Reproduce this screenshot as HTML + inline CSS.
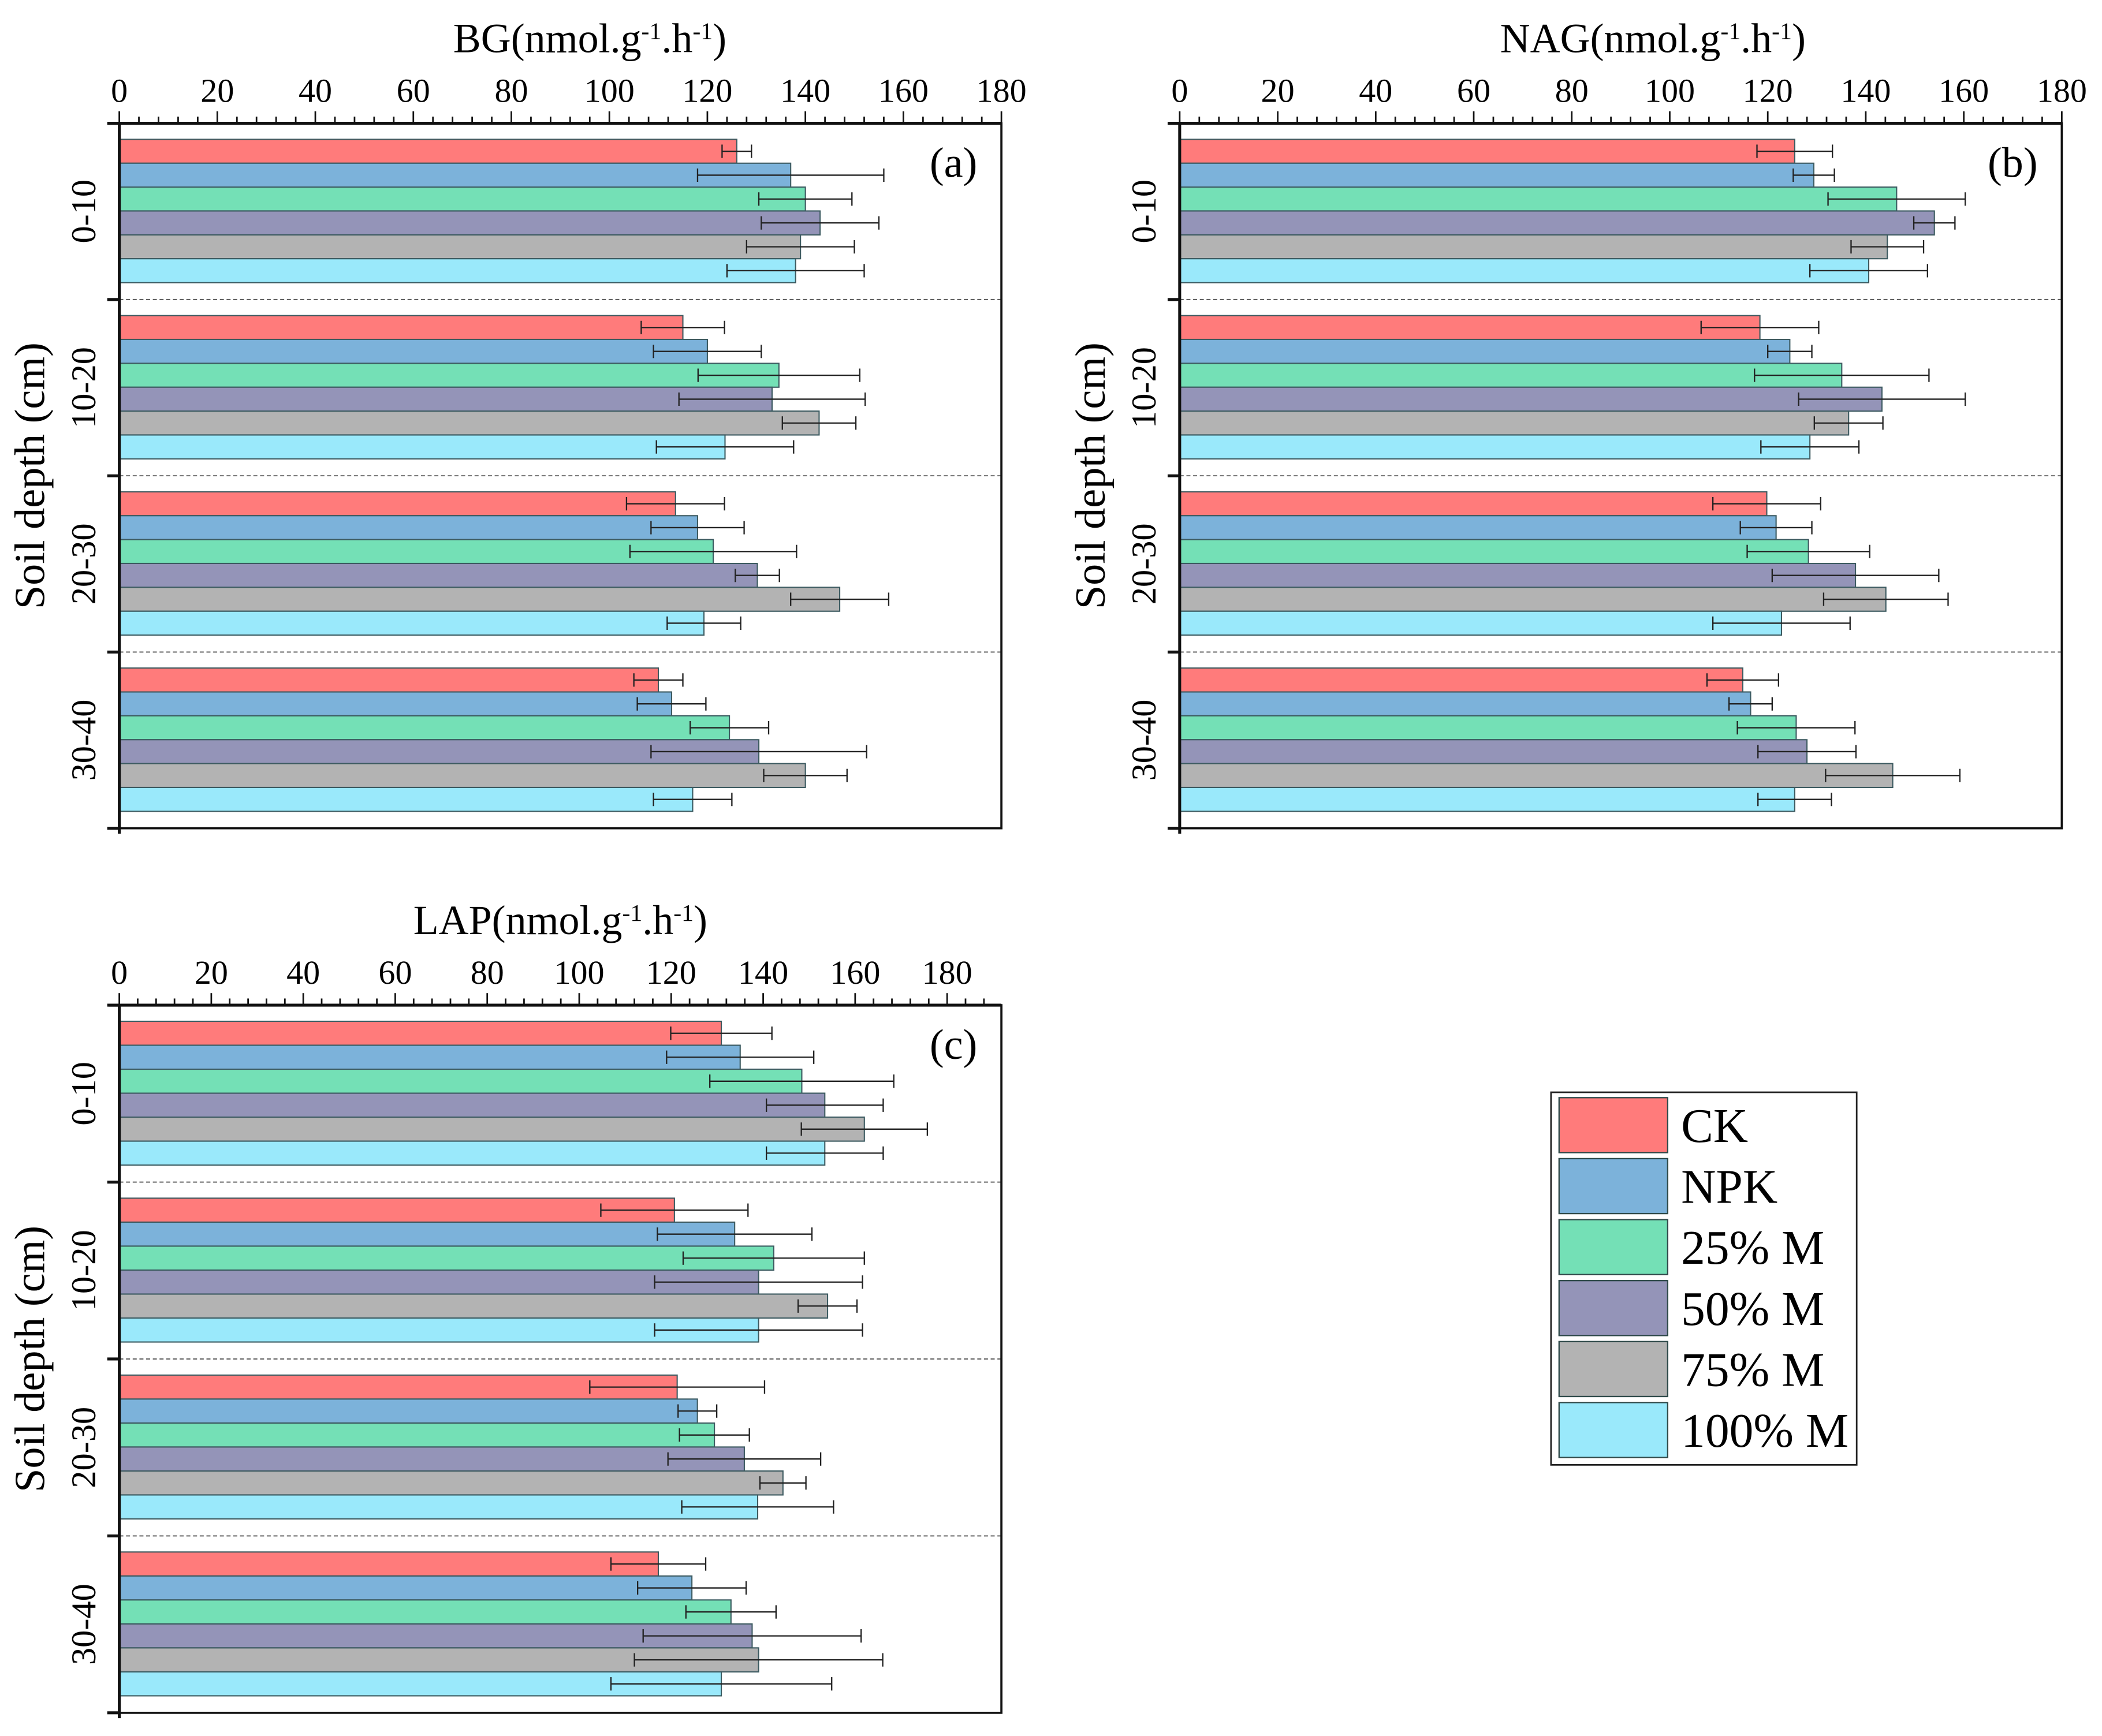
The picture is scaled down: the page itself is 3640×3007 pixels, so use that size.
<!DOCTYPE html>
<html><head><meta charset="utf-8">
<style>
html,body{margin:0;padding:0;background:#fff;}
svg, svg text{font-family:"Liberation Serif","Times New Roman","DejaVu Serif",serif;}
svg{display:block;}
</style></head>
<body>
<svg id="fig" width="3640" height="3007" viewBox="0 0 1568 1295.3" preserveAspectRatio="none" font-family="Liberation Serif, Times New Roman, serif" xmlns="http://www.w3.org/2000/svg"></svg>
<script>
const groups = ["0-10", "10-20", "20-30", "30-40"];
const treatments = ["CK", "NPK", "25% M", "50% M", "75% M", "100% M"];
const colors = ["#ff7b7b", "#7cb2da", "#74e0b6", "#9494b8", "#b3b3b3", "#9ae9fb"];
const ticks = [0, 20, 40, 60, 80, 100, 120, 140, 160, 180];

const bgValues = [[126,137,140,143,139,138],[115,120,134.6,133.2,142.8,123.6],[113.5,118,121.2,130.2,147,119.3],[110,112.7,124.5,130.5,140,117]];
const bgErrors = [[3,19,9.5,12,11,14],[8.5,11,16.5,19,7.5,14],[10,9.5,17,4.5,10,7.5],[5,7,8,22,8.5,8]];
const nagValues = [[125.5,129.4,146.3,154,144.4,140.6],[118.4,124.5,135.1,143.3,136.5,128.6],[119.8,121.7,128.3,137.9,144.1,122.8],[114.9,116.5,125.8,128,145.5,125.5]];
const nagErrors = [[7.7,4.2,14,4.2,7.4,12],[12,4.5,17.8,17,7,10],[11,7.3,12.5,17,12.7,14],[7.3,4.4,12,10,13.7,7.5]];
const lapValues = [[130.9,135,148.4,153.4,162,153.4],[120.7,133.8,142.3,139,154,139],[121.3,125.7,129.4,135.9,144.3,138.8],[117.2,124.5,133,137.6,139,130.9]];
const lapErrors = [[11,16,20,12.7,13.7,12.7],[16,16.8,19.7,22.6,6.4,22.6],[19,4.2,7.6,16.6,5,16.5],[10.3,11.8,9.8,23.7,27,24]];

const NS = "http://www.w3.org/2000/svg";
const svg = document.getElementById("fig");
const FF = '"Liberation Serif", "Times New Roman", serif';
function mk(tag, attrs, parent) {
  const e = document.createElementNS(NS, tag);
  for (const k in attrs) e.setAttribute(k, attrs[k]);
  if (tag === "text") e.setAttribute("font-family", FF);
  (parent || svg).appendChild(e);
  return e;
}

function panel(cfg) {
  const g = mk("g", {});
  
  
  const x0 = cfg.x0, x1 = cfg.x1, y0 = cfg.y0, y1 = cfg.y1;
  const xs = v => x0 + v * (x1 - x0) / cfg.xmax;
  const gh = (y1 - y0) / groups.length;
  const padTop = gh * 0.091, bh = gh * 0.1355;
  const ys = (gi, ti) => y0 + gi * gh + padTop + ti * bh;

  const t = mk("text", {x: (x0 + x1) / 2 + cfg.titleShift, y: cfg.y0 - 53, "text-anchor": "middle", "font-size": 31}, g);
  
  
  t.innerHTML = cfg.title + '(nmol.g<tspan baseline-shift="super" font-size="18">-1</tspan>.h<tspan baseline-shift="super" font-size="18">-1</tspan>)';

  for (let i = 1; i < groups.length; i++) {
    const yy = y0 + i * gh;
    const l = mk("line", {x1: x0, x2: x1, y1: yy, y2: yy, stroke: "#555", "stroke-width": 0.8, "stroke-dasharray": "3,2"}, g);
    
    
  }
  for (let gi = 0; gi < groups.length; gi++) {
    for (let ti = 0; ti < treatments.length; ti++) {
      const r = mk("rect", {x: x0, y: ys(gi, ti), width: xs(cfg.values[gi][ti]) - x0, height: bh, fill: colors[ti], stroke: "#3c5a60", "stroke-width": 0.9}, g);
      
      
    }
  }
  for (let gi = 0; gi < groups.length; gi++) {
    for (let ti = 0; ti < treatments.length; ti++) {
      const v = cfg.values[gi][ti], e = cfg.errors[gi][ti];
      const cy = ys(gi, ti) + bh / 2;
      const a = xs(v - e), b = xs(v + e);
      const eg = mk("g", {stroke: "#222", "stroke-width": 1}, g);
      
      
      mk("line", {x1: a, x2: b, y1: cy, y2: cy}, eg);
      mk("line", {x1: a, x2: a, y1: cy - 5, y2: cy + 5}, eg);
      mk("line", {x1: b, x2: b, y1: cy - 5, y2: cy + 5}, eg);
    }
  }
  const fr = mk("rect", {x: x0, y: y0, width: x1 - x0, height: y1 - y0, fill: "none", stroke: "#111", "stroke-width": 1.6}, g);
  
  
  mk("line", {x1: x0 - 8, x2: x1, y1: y0, y2: y0, stroke: "#111", "stroke-width": 2.2}, g);
  mk("line", {x1: x0, x2: x0, y1: y0, y2: y1 + 4, stroke: "#111", "stroke-width": 2.2}, g);
  for (let v = 0; v <= cfg.xmax + 0.01; v += 4) {
    const major = Math.abs(v % 20) < 0.01;
    mk("line", {x1: xs(v), x2: xs(v), y1: y0, y2: y0 - (major ? 9 : 5), stroke: "#111", "stroke-width": 1.2}, g);
  }
  ticks.forEach(v => {
    const tl = mk("text", {x: xs(v), y: y0 - 16, "text-anchor": "middle", "font-size": 25}, g);
    
    
    tl.textContent = v;
  });
  for (let i = 0; i <= groups.length; i++) {
    mk("line", {x1: x0 - 9, x2: x0, y1: y0 + i * gh, y2: y0 + i * gh, stroke: "#111", "stroke-width": 2.2}, g);
  }
  groups.forEach((lab, i) => {
    const cy = y0 + (i + 0.5) * gh;
    const gl = mk("text", {x: 0, y: 0, "text-anchor": "middle", "font-size": 26, transform: `translate(${x0 - 18},${cy}) rotate(-90)`}, g);
    
    
    gl.textContent = lab;
  });
  const yl = mk("text", {x: 0, y: 0, "text-anchor": "middle", "font-size": 32, transform: `translate(${x0 - 56},${(y0 + y1) / 2}) rotate(-90)`}, g);
  
  
  yl.textContent = "Soil depth (cm)";
  const pl = mk("text", {x: x1 - 18, y: y0 + 40, "text-anchor": "end", "font-size": 32}, g);
  
  
  pl.textContent = cfg.label;
}

panel({name: "bg-chart", title: "BG", label: "(a)", titleShift: 22, x0: 89, x1: 747, y0: 92, y1: 618, xmax: 180, values: bgValues, errors: bgErrors});
panel({name: "nag-chart", title: "NAG", label: "(b)", titleShift: 24, x0: 880, x1: 1538, y0: 92, y1: 618, xmax: 180, values: nagValues, errors: nagErrors});
panel({name: "lap-chart", title: "LAP", label: "(c)", titleShift: 0, x0: 89, x1: 747, y0: 750, y1: 1278, xmax: 191.8, values: lapValues, errors: lapErrors});

const lg = mk("g", {});


mk("rect", {x: 1157, y: 815, width: 228, height: 278, fill: "#fff", stroke: "#222", "stroke-width": 1.2}, lg);
treatments.forEach((tr, i) => {
  const yy = 819 + i * 45.5;
  const en = mk("g", {}, lg);
  
  
  mk("rect", {x: 1163, y: yy, width: 81, height: 41, fill: colors[i], stroke: "#2f4a4a", "stroke-width": 1}, en);
  const tx = mk("text", {x: 1254, y: yy + 33, "font-size": 36}, en);
  tx.textContent = tr;
});
</script>
</body></html>
